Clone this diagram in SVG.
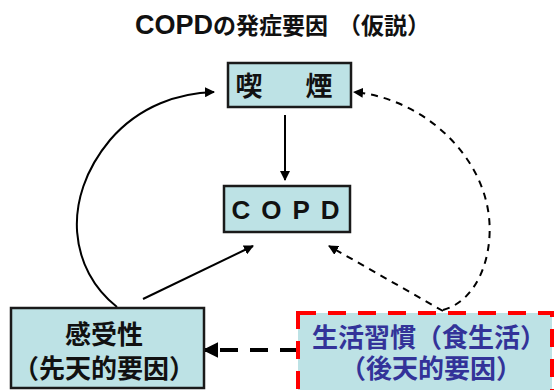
<svg xmlns="http://www.w3.org/2000/svg" width="554" height="390" viewBox="0 0 554 390">
<style>
.box{fill:#bde2e5;stroke:#1a1a1a;stroke-width:2.5}
.jp{font-family:"Liberation Sans","Noto Sans CJK JP",sans-serif;text-anchor:middle}
.c{fill:none;stroke:#000;stroke-width:2}
.d{fill:none;stroke:#000;stroke-width:2;stroke-dasharray:7,6}
</style>
<defs>
<marker id="ah" viewBox="0 0 10 10" refX="9" refY="5" markerWidth="5" markerHeight="5" orient="auto" markerUnits="strokeWidth">
<path d="M0,0 L10,5 L0,10 z" fill="#000"/>
</marker>
<marker id="ahb" viewBox="0 0 10 10" refX="9" refY="5" markerWidth="4" markerHeight="4" orient="auto" markerUnits="strokeWidth">
<path d="M0,0 L10,5 L0,10 z" fill="#000"/>
</marker>
</defs>
<rect width="554" height="390" fill="#fff"/>
<text x="135" y="34" font-family="Liberation Sans,Noto Sans CJK JP,sans-serif" font-weight="bold" fill="#111"><tspan font-size="27">COPD</tspan><tspan font-size="23">の発症要因</tspan><tspan font-size="23" dx="10">（仮説）</tspan></text>

<g id="connectors">
<line class="c" x1="285" y1="115" x2="285" y2="180" marker-end="url(#ah)"/>
<path class="c" d="M117,307 C70,270 60,200 110,140 C140,105 180,93 214,92" marker-end="url(#ah)"/>
<line class="c" x1="143" y1="299" x2="253" y2="246" marker-end="url(#ah)"/>
<line class="d" x1="443" y1="311" x2="329" y2="246" marker-end="url(#ah)"/>
<path class="d" d="M443,310 C480,300 495,250 488,210 C478,150 420,98 354,92" marker-end="url(#ah)"/>
<line x1="298" y1="350" x2="204" y2="350" stroke="#000" stroke-width="4" stroke-dasharray="18,12" marker-end="url(#ahb)"/>
</g>

<g id="smoking">
<rect class="box" x="228" y="63" width="123" height="44"/>
<text class="jp" x="249" y="96" font-size="27" font-weight="bold" fill="#111">喫</text>
<text class="jp" x="319" y="96" font-size="27" font-weight="bold" fill="#111">煙</text>
</g>

<g id="copd">
<rect class="box" x="224" y="186" width="126" height="46"/>
<text class="jp" x="291" y="219" font-size="26" font-weight="bold" fill="#111" letter-spacing="11">COPD</text>
</g>

<g id="susceptibility">
<rect class="box" x="11" y="308" width="193" height="80"/>
<text class="jp" x="104" y="344" font-size="26" font-weight="bold" fill="#111">感受性</text>
<text class="jp" x="104" y="378" font-size="26" font-weight="bold" fill="#111">（先天的要因）</text>
</g>

<g id="lifestyle">
<rect x="298" y="313" width="254" height="84" fill="#bde2e5" stroke="#ff0000" stroke-width="4" stroke-dasharray="18,12"/>
<text class="jp" x="429" y="347" font-size="26" font-weight="bold" fill="#333399">生活習慣（食生活）</text>
<text class="jp" x="431" y="378" font-size="26" font-weight="bold" fill="#333399">（後天的要因）</text>
</g>
</svg>
